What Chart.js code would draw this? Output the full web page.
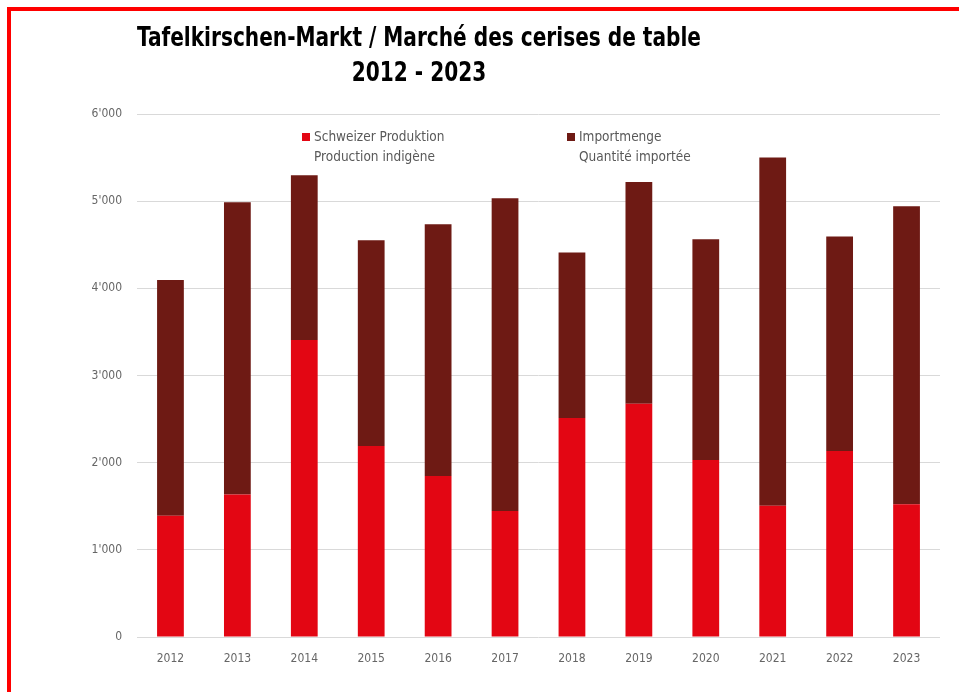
<!DOCTYPE html>
<html>
<head>
<meta charset="utf-8">
<script src="https://cdn.jsdelivr.net/npm/chart.js@4/dist/chart.umd.min.js"></script>
<style>
  html, body { margin: 0; padding: 0; background: #fff; overflow: hidden; }
  body { width: 959px; height: 692px; position: relative; }
  #frame { position: absolute; left: 7px; top: 7px; width: 2000px; height: 2000px;
           border: 4px solid #ff0000; box-sizing: border-box; }
  .title { position: absolute; left: 19px; width: 800px; text-align: center; white-space: nowrap;
           font-family: 'DejaVu Sans Condensed', 'DejaVu Sans', sans-serif;
           font-weight: bold; font-size: 26px; color: #000; line-height: 34px;
           transform: scaleX(0.86); transform-origin: 400px 50%; }
  #wrap { position: absolute; left: 0; top: 0; width: 959px; height: 692px; }
</style>
</head>
<body>
<div id="frame"></div>
<div id="wrap"><canvas id="dispChart"></canvas></div>
<div class="title" style="top:20px">Tafelkirschen-Markt / Marché des cerises de table</div>
<div class="title" style="top:55px">2012 - 2023</div>
<script>
  // data
  const years = ['2012','2013','2014','2015','2016','2017','2018','2019','2020','2021','2022','2023'];
  const production = [1390, 1636, 3406, 2190, 1846, 1445, 2511, 2676, 2030, 1506, 2133, 1522];
  const imports = [2705, 3353, 1892, 2363, 2890, 3589, 1901, 2545, 2534, 3995, 2462, 3421];
  const legendLabels = [
    ['Schweizer Produktion', 'Production indigène'],
    ['Importmenge', 'Quantité importée']
  ];
  const colors = ['#e30613', '#6e1a14'];

  const tickFont = { family: "'DejaVu Sans Condensed', 'DejaVu Sans', sans-serif", size: 12 };

  // legend drawn inside the plot area, two lines per entry
  const insideLegend = {
    id: 'insideLegend',
    afterDraw(chart) {
      const ctx = chart.ctx;
      const spots = [[302, 314], [567, 579]];
      ctx.save();
      ctx.font = "13.5px 'DejaVu Sans Condensed', 'DejaVu Sans', sans-serif";
      ctx.textBaseline = 'middle';
      legendLabels.forEach((lines, i) => {
        ctx.fillStyle = colors[i];
        ctx.fillRect(spots[i][0], 133, 8, 8);
        ctx.fillStyle = '#595959';
        lines.forEach((t, j) => ctx.fillText(t, spots[i][1], 137 + j * 20));
      });
      ctx.restore();
    }
  };

  const data = {
    labels: years,
    datasets: [
      { label: legendLabels[0].join(' '), data: production, backgroundColor: colors[0],
        barPercentage: 0.4, categoryPercentage: 1 },
      { label: legendLabels[1].join(' '), data: imports, backgroundColor: colors[1],
        barPercentage: 0.4, categoryPercentage: 1 }
    ]
  };

  const config = {
    type: 'bar',
    data: data,
    plugins: [insideLegend],
    options: {
      responsive: true,
      maintainAspectRatio: false,
      animation: false,
      layout: { padding: { left: 0, right: 19, top: 114, bottom: 0 } },
      plugins: { legend: { display: false }, title: { display: false }, tooltip: { enabled: false } },
      scales: {
        x: {
          stacked: true,
          grid: { display: false },
          border: { display: false },
          ticks: { color: '#666666', font: tickFont, padding: 7 },
          afterFit(scale) { scale.height = 55; }
        },
        y: {
          stacked: true,
          min: 0, max: 6000,
          grid: { color: '#d9d9d9', lineWidth: 1, drawTicks: false },
          border: { display: false },
          ticks: {
            stepSize: 1000, color: '#666666', font: tickFont, padding: 15,
            callback: v => v === 0 ? '0' : (v / 1000) + "'000"
          },
          afterFit(scale) { scale.width = 137; }
        }
      }
    }
  };

  const myChart = new Chart(document.getElementById('dispChart'), config);
</script>
</body>
</html>
